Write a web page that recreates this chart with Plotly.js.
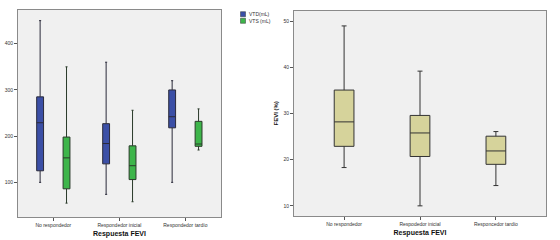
<!DOCTYPE html>
<html><head><meta charset="utf-8">
<script src="https://cdn.plot.ly/plotly-3.0.1.min.js"></script>
<style>html,body{margin:0;padding:0;background:#fff}#c{width:560px;height:240px}</style>
</head><body><div id="c"></div>
<script>
const catsLeft = ["No respondedor", "Respondedor inicial", "Respondedor tardío"];
const catsRight = ["No respondedor", "Respodedor inicial", "Responcedor tardío"];
const seriesNames = ["VTD(mL)", "VTS (mL)"];
const seriesColors = ["#3b4fa6", "#3db54a"];
const vtdLow = [100, 74, 100];
const vtdQ1 = [125, 140, 218];
const vtdMed = [229, 184, 242];
const vtdQ3 = [285, 227, 300];
const vtdHigh = [450, 360, 320];
const vtsLow = [55, 58, 170];
const vtsQ1 = [86, 106, 178];
const vtsMed = [153, 136, 183];
const vtsQ3 = [198, 179, 232];
const vtsHigh = [350, 256, 259];
const fevLow = [18.3, 10, 14.4];
const fevQ1 = [22.9, 20.7, 19];
const fevMed = [28.2, 25.8, 21.9];
const fevQ3 = [35.1, 29.6, 25.1];
const fevHigh = [49, 39.2, 26.1];

const F = "Liberation Sans, Arial, sans-serif";
const traces = [
  {type:"box", name:seriesNames[0], x:catsLeft, q1:vtdQ1, median:vtdMed, q3:vtdQ3, lowerfence:vtdLow, upperfence:vtdHigh,
   alignmentgroup:"L", offsetgroup:"vtd",
   fillcolor:seriesColors[0], line:{color:"#2a2a3a", width:1}, whiskerwidth:0.3, showlegend:false, xaxis:"x", yaxis:"y"},
  {type:"box", name:seriesNames[1], x:catsLeft, q1:vtsQ1, median:vtsMed, q3:vtsQ3, lowerfence:vtsLow, upperfence:vtsHigh,
   alignmentgroup:"L", offsetgroup:"vts",
   fillcolor:seriesColors[1], line:{color:"#2a3a2a", width:1}, whiskerwidth:0.3, showlegend:false, xaxis:"x", yaxis:"y"},
  {type:"box", name:"FEVI", x:catsRight, q1:fevQ1, median:fevMed, q3:fevQ3, lowerfence:fevLow, upperfence:fevHigh,
   alignmentgroup:"R", offsetgroup:"fevi",
   fillcolor:"#d6d39b", line:{color:"#333", width:1}, whiskerwidth:0.25, width:0.26, showlegend:false, xaxis:"x2", yaxis:"y2"}
];
// manual small legend (SPSS style)
const shapes = [], annotations = [];
seriesNames.forEach((n, i) => {
  const top = 11.7 + i * 6.6;
  shapes.push({type:"rect", xref:"paper", yref:"paper", x0:240.5/560, x1:245.5/560,
    y0:1 - (top + 5) / 240, y1:1 - top / 240, fillcolor:seriesColors[i], line:{color:"#333", width:0.5}});
  annotations.push({xref:"paper", yref:"paper", x:247/560, y:1 - (top + 2.5) / 240, xanchor:"left", yanchor:"middle",
    text:n, showarrow:false, font:{family:F, size:5, color:"#333"}});
});
const axBase = {showline:true, mirror:true, linecolor:"#8a8a8a", linewidth:1, showgrid:false, zeroline:false,
  ticks:"outside", ticklen:3, tickcolor:"#555", tickfont:{family:F, size:5, color:"#333"}, automargin:false};
const layout = {
  width:560, height:240, margin:{l:0, r:0, t:0, b:0},
  paper_bgcolor:"#fff", plot_bgcolor:"#f0f0f0",
  boxmode:"group", boxgap:0.2, boxgroupgap:0.74,
  showlegend:false, shapes:shapes, annotations:annotations,
  xaxis:Object.assign({}, axBase, {domain:[18/560, 221/560], range:[-0.535, 2.54], anchor:"y",
    title:{text:"Respuesta FEVI", font:{family:F, size:7, color:"#111", weight:"bold"}, standoff:4}}),
  yaxis:Object.assign({}, axBase, {domain:[1-217/240, 1-10/240], range:[25, 473], dtick:100, tick0:0, anchor:"x"}),
  xaxis2:Object.assign({}, axBase, {domain:[294/560, 546/560], range:[-0.66, 2.66], anchor:"y2",
    title:{text:"Respuesta FEVI", font:{family:F, size:7, color:"#111", weight:"bold"}, standoff:4}}),
  yaxis2:Object.assign({}, axBase, {domain:[1-216/240, 1-10.7/240], range:[7.8, 52.3], dtick:10, tick0:0, anchor:"x2",
    title:{text:"FEVI (%)", font:{family:F, size:6, color:"#111", weight:"bold"}, standoff:4}})
};
Plotly.newPlot("c", traces, layout, {staticPlot:true, displayModeBar:false});
</script></body></html>
